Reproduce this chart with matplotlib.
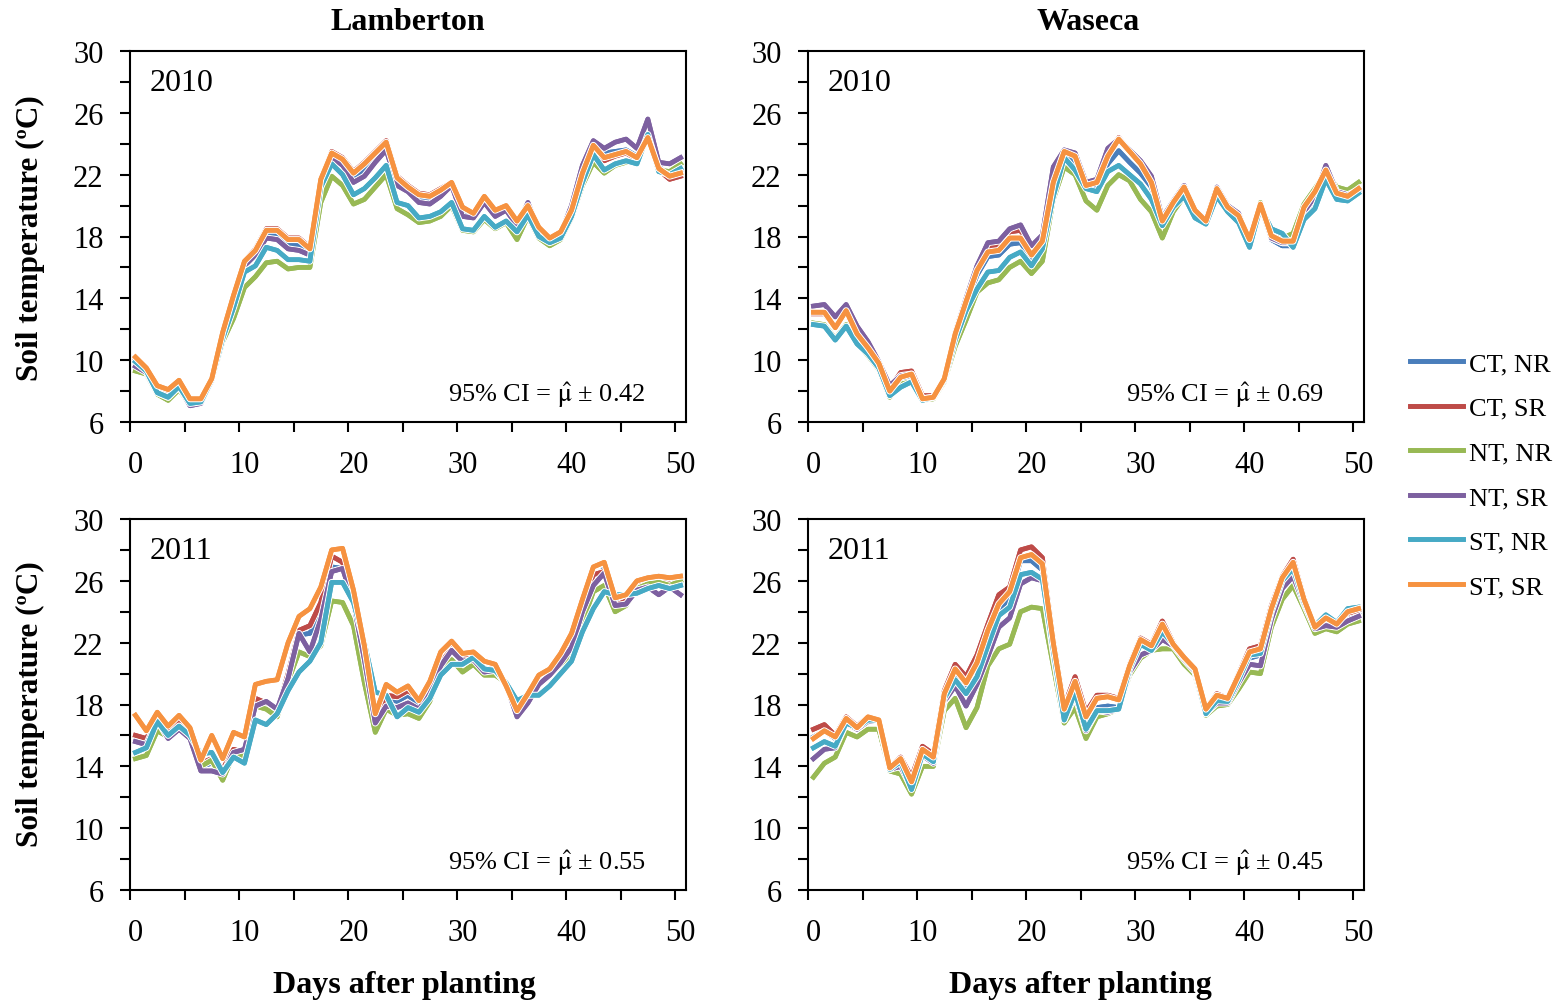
import matplotlib.pyplot as plt
import matplotlib.patheffects as pe
from matplotlib.ticker import MultipleLocator, FixedLocator

plt.rcParams['font.family'] = ['Liberation Serif', 'DejaVu Serif']
plt.rcParams['mathtext.fontset'] = 'stix'

days = list(range(51))
labels = ["CT, NR", "CT, SR", "NT, NR", "NT, SR", "ST, NR", "ST, SR"]
colors = ["#4A7EBB", "#BE4B48", "#98B954", "#7D60A0", "#46AAC5", "#F69240"]

# Lamberton 2010
lam10_ct_nr = [9.9, 9.4, 8.1, 7.8, 8.4, 7.3, 7.4, 8.7, 11.6, 14.0, 16.2, 16.9, 18.3, 18.1, 17.5, 17.4, 17.0,
               21.5, 23.2, 22.8, 21.8, 22.3, 23.1, 23.8, 21.5, 20.9, 20.4, 20.4, 20.8, 21.3, 19.6, 19.3, 20.4,
               19.5, 19.8, 18.8, 19.9, 18.4, 17.8, 18.2, 19.7, 22.2, 24.0, 23.4, 23.5, 23.6, 23.2, 24.6, 22.5,
               22.0, 22.3]
lam10_ct_sr = [10.1, 9.5, 8.3, 8.0, 8.6, 7.4, 7.5, 8.8, 11.8, 14.2, 16.4, 17.2, 18.5, 18.5, 17.9, 17.9, 17.3,
               21.7, 23.5, 23.1, 22.2, 22.8, 23.5, 24.2, 21.9, 21.3, 20.8, 20.7, 21.1, 21.5, 19.9, 19.5, 20.6,
               19.7, 20.0, 19.0, 20.0, 18.6, 17.9, 18.3, 19.7, 22.1, 23.8, 22.9, 23.2, 23.4, 23.0, 24.3, 22.3,
               21.7, 21.9]
lam10_nt_nr = [9.3, 9.1, 7.8, 7.4, 8.1, 7.1, 7.3, 8.6, 11.2, 12.7, 14.7, 15.4, 16.3, 16.4, 15.9, 16.0, 16.0,
               20.2, 21.9, 21.3, 20.1, 20.4, 21.2, 22.0, 19.8, 19.4, 18.9, 19.0, 19.3, 20.0, 18.4, 18.3, 19.1,
               18.5, 18.9, 17.8, 19.3, 17.9, 17.4, 17.8, 19.2, 21.3, 22.8, 22.1, 22.6, 22.8, 22.8, 24.5, 22.3,
               22.2, 22.7]
lam10_nt_sr = [9.6, 9.2, 7.9, 7.6, 8.3, 7.05, 7.2, 8.7, 11.5, 13.8, 16.1, 16.8, 17.9, 17.8, 17.2, 17.1, 16.8,
               21.5, 23.1, 22.6, 21.5, 21.9, 22.8, 23.6, 21.3, 20.9, 20.2, 20.1, 20.6, 21.3, 19.3, 19.2, 20.2,
               19.3, 19.7, 18.7, 20.2, 18.4, 17.8, 18.2, 20.0, 22.6, 24.2, 23.7, 24.1, 24.3, 23.7, 25.6, 22.8,
               22.7, 23.1]
lam10_st_nr = [9.9, 9.3, 7.9, 7.6, 8.3, 7.2, 7.3, 8.7, 11.4, 13.4, 15.7, 16.1, 17.3, 17.1, 16.5, 16.5, 16.4,
               21.2, 22.7, 22.0, 20.7, 21.1, 21.8, 22.6, 20.2, 20.0, 19.2, 19.3, 19.6, 20.2, 18.5, 18.4, 19.3,
               18.6, 19.0, 18.3, 19.4, 18.0, 17.6, 17.9, 19.3, 21.5, 23.3, 22.3, 22.7, 22.9, 22.7, 24.6, 22.2,
               22.0, 22.4]
lam10_st_sr = [10.2, 9.5, 8.35, 8.1, 8.7, 7.5, 7.5, 8.8, 11.8, 14.2, 16.4, 17.1, 18.4, 18.4, 17.8, 17.8, 17.2,
               21.7, 23.4, 23.0, 22.1, 22.7, 23.4, 24.1, 21.8, 21.2, 20.7, 20.6, 21.0, 21.5, 19.9, 19.5, 20.6,
               19.7, 20.0, 19.0, 20.0, 18.6, 17.9, 18.3, 19.7, 22.1, 23.9, 23.1, 23.3, 23.5, 23.1, 24.4, 22.4,
               21.9, 22.1]

# Waseca 2010
was10_ct_nr = [13.0, 13.0, 12.1, 13.1, 11.6, 10.8, 9.8, 8.0, 8.8, 9.0, 7.5, 7.6, 8.7, 11.5, 13.6, 15.5, 16.7,
               16.8, 17.5, 17.6, 16.6, 17.4, 21.3, 23.4, 22.8, 21.2, 21.1, 22.7, 23.55, 22.8, 22.1, 21.2, 18.8,
               20.1, 21.0, 19.5, 18.8, 21.0, 19.6, 19.1, 17.3, 20.0, 17.8, 17.4, 17.4, 19.3, 20.4, 22.2, 20.5,
               20.4, 20.8]
was10_ct_sr = [13.0, 13.0, 12.1, 13.2, 11.8, 10.9, 9.9, 8.2, 9.2, 9.3, 7.7, 7.7, 8.8, 11.8, 14.0, 16.0, 17.3,
               17.4, 18.3, 18.4, 17.1, 17.9, 22.0, 23.6, 23.4, 21.6, 21.6, 23.5, 24.4, 23.6, 22.8, 21.6, 19.0,
               20.3, 21.2, 19.6, 19.0, 21.1, 19.8, 19.3, 17.6, 20.1, 17.9, 17.6, 17.6, 19.6, 20.7, 22.4, 20.7,
               20.5, 21.0]
was10_nt_nr = [12.4, 12.3, 11.4, 12.3, 11.1, 10.3, 9.4, 7.6, 8.45, 8.6, 7.4, 7.5, 8.6, 10.9, 12.6, 14.4, 15.0,
               15.2, 16.0, 16.4, 15.6, 16.4, 20.4, 22.5, 22.0, 20.3, 19.7, 21.3, 22.0, 21.6, 20.4, 19.6, 17.9,
               19.6, 20.6, 19.3, 18.9, 20.8, 19.7, 19.0, 17.5, 20.2, 18.0, 17.9, 18.2, 20.1, 21.1, 22.2, 21.2,
               21.0, 21.5]
was10_nt_sr = [13.5, 13.6, 12.8, 13.6, 12.2, 11.2, 9.9, 8.35, 9.0, 9.1, 7.5, 7.6, 8.8, 11.8, 14.0, 16.1, 17.6,
               17.7, 18.5, 18.75, 17.4, 18.1, 22.5, 23.6, 23.4, 21.5, 21.7, 23.7, 24.3, 23.6, 22.9, 21.9, 19.2,
               20.3, 21.3, 19.7, 19.1, 21.2, 20.0, 19.5, 17.6, 20.0, 17.9, 17.6, 17.6, 19.6, 20.6, 22.6, 20.9,
               20.7, 21.0]
was10_st_nr = [12.3, 12.2, 11.3, 12.2, 11.05, 10.4, 9.5, 7.7, 8.25, 8.6, 7.4, 7.6, 8.7, 11.3, 13.2, 14.6, 15.7,
               15.8, 16.65, 17.0, 16.1, 17.2, 20.6, 23.1, 22.3, 21.1, 20.9, 22.2, 22.6, 22.0, 21.4, 20.4, 18.7,
               19.9, 20.6, 19.2, 18.8, 20.6, 19.6, 18.9, 17.3, 19.9, 18.5, 18.2, 17.3, 19.1, 19.8, 21.7, 20.4,
               20.3, 20.8]
was10_st_sr = [13.1, 13.1, 12.1, 13.2, 11.7, 10.8, 9.8, 8.0, 8.9, 9.1, 7.5, 7.6, 8.8, 11.7, 13.8, 15.8, 17.0,
               17.1, 17.9, 17.9, 16.8, 17.7, 21.5, 23.5, 23.2, 21.3, 21.5, 23.2, 24.3, 23.5, 22.7, 21.5, 19.0,
               20.2, 21.2, 19.7, 19.0, 21.1, 19.9, 19.35, 17.8, 20.1, 18.05, 17.7, 17.7, 19.9, 20.9, 22.3, 20.8,
               20.6, 21.1]

# Lamberton 2011
lam11_ct_nr = [15.7, 15.5, 17.0, 16.2, 16.9, 16.0, 14.0, 14.2, 13.6, 14.9, 14.8, 18.0, 18.0, 17.5, 19.8, 22.5,
               22.6, 24.2, 26.9, 26.8, 24.6, 21.0, 16.9, 18.4, 18.2, 18.6, 18.0, 18.8, 20.5, 21.4, 20.8, 21.1,
               20.2, 20.2, 19.3, 17.3, 18.2, 19.4, 20.0, 20.8, 21.8, 24.2, 26.0, 26.8, 24.5, 24.8, 25.6, 26.0,
               26.0, 26.0, 26.1]
lam11_ct_sr = [16.0, 15.8, 17.1, 16.4, 17.0, 16.2, 14.2, 14.5, 13.8, 15.1, 14.9, 18.4, 18.1, 17.6, 20.0, 22.8,
               23.1, 24.6, 27.6, 27.2, 24.6, 21.2, 17.0, 18.6, 18.5, 18.9, 18.4, 19.0, 20.7, 21.6, 20.9, 21.2,
               20.3, 20.3, 19.3, 17.2, 18.3, 19.6, 20.1, 20.9, 21.9, 24.4, 26.4, 26.6, 24.4, 24.7, 25.9, 26.1,
               26.2, 26.1, 26.2]
lam11_nt_nr = [14.5, 14.7, 16.3, 15.9, 16.6, 15.9, 14.0, 14.4, 13.1, 14.8, 14.6, 17.9, 17.7, 17.2, 19.5, 21.4,
               21.1, 21.8, 24.7, 24.6, 23.1, 19.4, 16.2, 17.7, 17.3, 17.4, 17.1, 18.2, 20.3, 20.9, 20.1, 20.6,
               19.9, 19.9, 19.4, 17.5, 18.2, 19.4, 19.9, 20.6, 21.2, 23.3, 25.3, 25.7, 24.0, 24.4, 25.5, 25.8,
               25.9, 25.7, 26.0]
lam11_nt_sr = [15.6, 15.4, 17.0, 15.8, 16.4, 15.8, 13.7, 13.7, 13.5, 14.9, 15.1, 17.9, 18.2, 17.7, 19.7, 22.6,
               21.4, 23.5, 26.6, 26.8, 24.6, 20.9, 16.8, 17.9, 17.8, 18.1, 17.7, 18.7, 20.5, 21.5, 20.8, 20.9,
               20.1, 20.2, 19.3, 17.2, 18.1, 19.3, 19.9, 20.7, 21.7, 24.0, 25.7, 26.5, 24.4, 24.5, 25.4, 25.6,
               25.1, 25.6, 25.1]
lam11_st_nr = [14.9, 15.2, 16.9, 16.0, 16.6, 16.0, 14.8, 14.9, 13.6, 14.6, 14.2, 17.0, 16.7, 17.4, 18.9, 20.1,
               20.8, 22.0, 25.9, 25.9, 24.6, 22.0, 18.8, 18.6, 17.2, 17.8, 17.5, 18.4, 19.9, 20.6, 20.6, 21.05,
               20.3, 20.2, 19.4, 18.25, 18.6, 18.6, 19.2, 20.0, 20.8, 22.7, 24.2, 25.3, 25.1, 25.1, 25.2, 25.5,
               25.7, 25.5, 25.7]
lam11_st_sr = [17.3, 16.3, 17.5, 16.6, 17.3, 16.5, 14.4, 16.0, 14.5, 16.2, 15.9, 19.3, 19.5, 19.6, 22.0, 23.7,
               24.2, 25.6, 28.0, 28.1, 25.4, 21.8, 17.4, 19.3, 18.8, 19.2, 18.25, 19.5, 21.4, 22.1, 21.3, 21.4,
               20.8, 20.6, 19.2, 17.6, 18.7, 19.9, 20.3, 21.3, 22.6, 24.8, 26.9, 27.2, 24.9, 25.1, 26.0, 26.2,
               26.3, 26.2, 26.3]

# Waseca 2011
was11_ct_nr = [15.9, 16.3, 15.8, 17.0, 16.5, 17.1, 17.0, 13.9, 14.3, 12.8, 14.9, 14.4, 18.5, 20.0, 19.1, 20.3,
               22.3, 24.1, 24.9, 27.3, 27.3, 26.7, 21.8, 17.3, 19.1, 16.7, 17.8, 17.9, 17.8, 20.3, 21.9, 21.6,
               22.8, 21.8, 21.0, 20.3, 17.5, 18.3, 18.3, 19.6, 21.0, 21.2, 23.9, 25.9, 26.7, 24.6, 23.0, 23.5,
               23.1, 23.8, 24.0]
was11_ct_sr = [16.4, 16.7, 16.0, 17.2, 16.6, 17.2, 17.0, 13.9, 14.6, 13.3, 15.3, 14.8, 18.9, 20.6, 19.8, 21.2,
               23.2, 25.1, 25.6, 28.0, 28.2, 27.5, 22.2, 17.9, 19.8, 17.5, 18.6, 18.6, 18.4, 20.6, 22.3, 21.9,
               23.4, 22.0, 21.0, 20.3, 17.7, 18.7, 18.4, 20.0, 21.6, 21.8, 24.4, 26.3, 27.4, 24.9, 23.0, 23.6,
               23.2, 23.9, 24.1]
was11_nt_nr = [13.3, 14.2, 14.6, 16.2, 15.9, 16.4, 16.4, 13.7, 13.5, 12.2, 14.0, 14.0, 17.6, 18.4, 16.5, 17.8,
               20.5, 21.6, 21.9, 24.0, 24.3, 24.2, 20.5, 16.8, 17.8, 15.8, 17.2, 17.4, 17.7, 19.9, 21.0, 21.5,
               21.6, 21.6, 20.6, 19.9, 17.3, 17.9, 18.0, 19.0, 20.1, 20.0, 23.0, 24.8, 25.7, 24.2, 22.6, 22.9,
               22.7, 23.2, 23.4]
was11_nt_sr = [14.5, 15.1, 15.2, 16.8, 16.4, 16.9, 17.0, 13.8, 14.0, 12.6, 14.7, 14.2, 18.2, 19.2, 17.9, 19.3,
               21.1, 23.0, 23.6, 25.8, 26.2, 26.0, 21.3, 17.0, 18.6, 16.3, 17.6, 17.5, 17.7, 20.1, 21.2, 21.5,
               22.2, 21.8, 20.9, 20.1, 17.4, 18.1, 18.1, 19.4, 20.6, 20.5, 23.5, 25.5, 26.3, 24.5, 22.9, 23.1,
               23.0, 23.4, 23.7]
was11_st_nr = [15.2, 15.6, 15.3, 16.8, 16.5, 17.0, 17.0, 13.8, 14.3, 12.5, 14.8, 14.3, 18.4, 19.6, 18.7, 19.8,
               21.8, 23.75, 24.3, 26.4, 26.55, 26.1, 21.5, 17.0, 18.8, 16.4, 17.6, 17.6, 17.7, 20.3, 21.9, 21.5,
               22.7, 21.9, 21.0, 20.2, 17.4, 18.25, 18.2, 19.6, 21.2, 21.3, 24.0, 26.0, 26.8, 24.6, 23.1, 23.8,
               23.3, 24.2, 24.3]
was11_st_sr = [15.8, 16.3, 15.9, 17.1, 16.5, 17.2, 17.0, 13.9, 14.5, 13.0, 15.1, 14.6, 18.7, 20.3, 19.4, 20.7,
               22.8, 24.5, 25.3, 27.5, 27.7, 27.1, 22.0, 17.7, 19.5, 17.2, 18.4, 18.5, 18.3, 20.5, 22.2, 21.8,
               23.2, 21.9, 21.05, 20.3, 17.7, 18.6, 18.4, 19.9, 21.4, 21.6, 24.2, 26.2, 27.2, 24.8, 23.0, 23.6,
               23.2, 24.0, 24.2]

panels = [
    ([lam10_ct_nr, lam10_ct_sr, lam10_nt_nr, lam10_nt_sr, lam10_st_nr, lam10_st_sr], "2010", "0.42"),
    ([was10_ct_nr, was10_ct_sr, was10_nt_nr, was10_nt_sr, was10_st_nr, was10_st_sr], "2010", "0.69"),
    ([lam11_ct_nr, lam11_ct_sr, lam11_nt_nr, lam11_nt_sr, lam11_st_nr, lam11_st_sr], "2011", "0.55"),
    ([was11_ct_nr, was11_ct_sr, was11_nt_nr, was11_nt_sr, was11_st_nr, was11_st_sr], "2011", "0.45"),
]

fig = plt.figure(figsize=(15.62, 10.03), dpi=100)
W, H = 1562, 1003
boxes = [(130, 52), (808, 52), (130, 520), (808, 520)]

lw = 3.4
for (x0, y0), (series, year, ci) in zip(boxes, panels):
    ax = fig.add_axes([x0 / W, 1 - (y0 + 371) / H, 556 / W, 371 / H])
    for vals, lab, col in zip(series, labels, colors):
        ax.plot(days, vals, color=col, lw=lw, label=lab,
                path_effects=[pe.withStroke(linewidth=lw + 1.6, foreground="white"), pe.Normal()])
    ax.set_xlim(-0.5, 50.5)
    ax.set_ylim(6, 30)
    ax.set_yticks(range(6, 31, 4))
    ax.yaxis.set_minor_locator(MultipleLocator(2))
    ax.set_xticks(range(0, 51, 10))
    ax.xaxis.set_minor_locator(FixedLocator([-0.5 + 5 * k for k in range(11)]))
    ax.tick_params(axis="x", which="major", length=0, pad=20, labelsize=22)
    ax.tick_params(axis="x", which="minor", length=7, width=1.5, direction="out")
    ax.tick_params(axis="y", which="both", length=7, width=1.5, direction="out", pad=12, labelsize=22)
    for sp in ax.spines.values():
        sp.set_linewidth(1.5)
    ax.text(0.036, 0.915, year, transform=ax.transAxes, fontsize=23, ha="left", va="center")
    ax.text(0.75, 0.075, "95% CI = $\\hat{\\mathrm{μ}}$ ± " + ci, transform=ax.transAxes,
            fontsize=19, ha="center", va="center")

fig.text(408 / W, 1 - 22 / H, "Lamberton", fontsize=23, fontweight="bold", ha="center", va="center")
fig.text(1088 / W, 1 - 22 / H, "Waseca", fontsize=23, fontweight="bold", ha="center", va="center")
fig.text(404 / W, 1 - 985 / H, "Days after planting", fontsize=23, fontweight="bold", ha="center", va="center")
fig.text(1080 / W, 1 - 985 / H, "Days after planting", fontsize=23, fontweight="bold", ha="center", va="center")
fig.text(30 / W, 1 - 238 / H, "Soil temperature (ºC)", fontsize=22.5, fontweight="bold",
         rotation=90, ha="center", va="center")
fig.text(30 / W, 1 - 704 / H, "Soil temperature (ºC)", fontsize=22.5, fontweight="bold",
         rotation=90, ha="center", va="center")

handles, labs = fig.axes[0].get_legend_handles_labels()
fig.legend(handles, labs, loc="center left", bbox_to_anchor=(1410 / W, 1 - 476 / H),
           frameon=False, fontsize=19, handlelength=2.0, labelspacing=0.8,
           handletextpad=0.25, borderpad=0, borderaxespad=0)

fig.savefig("out.png", dpi=100)
